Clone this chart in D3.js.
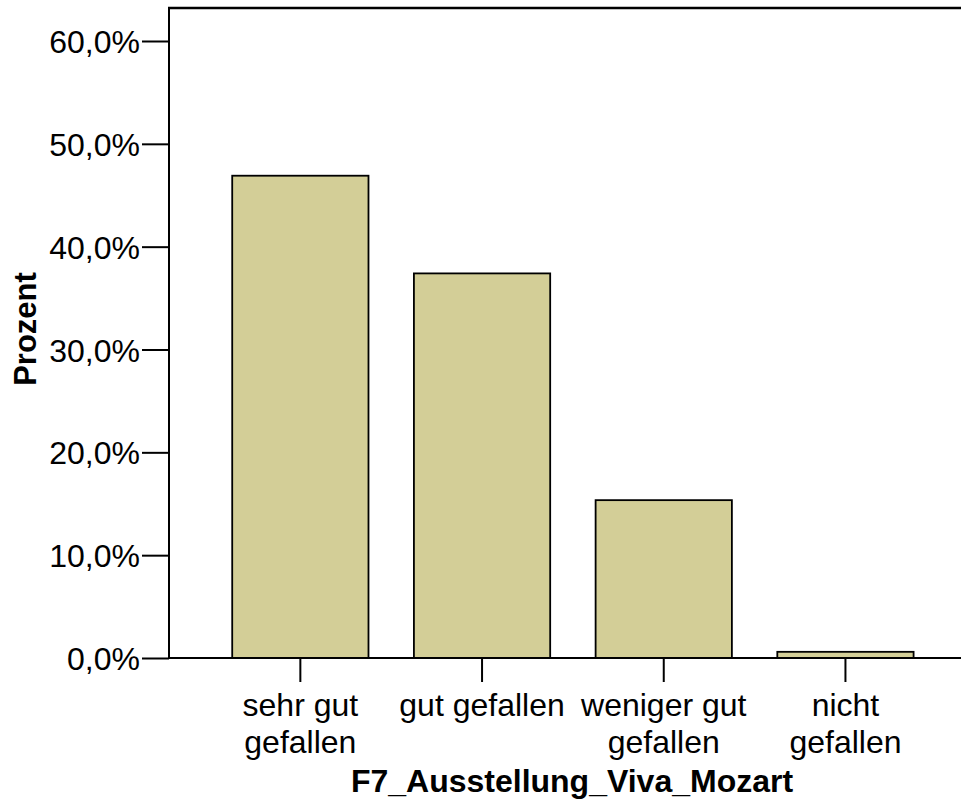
<!DOCTYPE html>
<html>
<head>
<meta charset="utf-8">
<script src="https://cdn.jsdelivr.net/npm/d3@7"></script>
<style>
  body { margin: 0; background: #fff; }
  text { font-family: "Liberation Sans", Arial, sans-serif; }
</style>
</head>
<body>
<svg id="chart" width="961" height="804"></svg>
<script>
// categories + values (percent)
const categories = ["sehr gut gefallen", "gut gefallen", "weniger gut gefallen", "nicht gefallen"];
const labelLines = [["sehr gut", "gefallen"], ["gut gefallen"], ["weniger gut", "gefallen"], ["nicht", "gefallen"]];
const percents = [46.9, 37.4, 15.35, 0.6];
const yTicks = [0, 10, 20, 30, 40, 50, 60];

const svg = d3.select("#chart");
const plotLeft = 169, plotRight = 961, plotTop = 8, plotBottom = 658;
const fontSize = 32;

const x = d3.scaleBand()
  .domain(categories)
  .range([209.5, 936.3])
  .paddingInner(0.25)
  .paddingOuter(0.125);

const y = d3.scaleLinear().domain([0, 60]).range([plotBottom, 41]);

// bars
svg.append("g")
  .selectAll("rect")
  .data(categories)
  .enter()
  .append("rect")
  .attr("x", d => x(d))
  .attr("width", x.bandwidth())
  .attr("y", (d, i) => y(percents[i]))
  .attr("height", (d, i) => plotBottom - y(percents[i]))
  .attr("fill", "#d3ce97")
  .attr("stroke", "#000")
  .attr("stroke-width", 1.8);

// y axis
const yAxis = svg.append("g")
  .attr("transform", `translate(${plotLeft},0)`)
  .call(d3.axisLeft(y)
    .tickValues(yTicks)
    .tickSize(27)
    .tickPadding(2)
    .tickFormat(d => d.toFixed(1).replace(".", ",") + "%"));
yAxis.select(".domain").remove();
yAxis.selectAll(".tick line").attr("stroke", "#000").attr("stroke-width", 2);
yAxis.selectAll(".tick text")
  .attr("font-size", fontSize)
  .attr("fill", "#000")
  .attr("dy", "0.36em");

// x axis ticks
const xAxis = svg.append("g")
  .attr("transform", `translate(0,${plotBottom})`)
  .call(d3.axisBottom(x).tickSize(24).tickFormat(""));
xAxis.select(".domain").remove();
xAxis.selectAll(".tick line").attr("stroke", "#000").attr("stroke-width", 2);

// category labels, wrapped as in the original
svg.append("g")
  .selectAll("text")
  .data(categories)
  .enter()
  .append("text")
  .attr("text-anchor", "middle")
  .attr("font-size", fontSize)
  .attr("fill", "#000")
  .each(function(d, i) {
    const t = d3.select(this);
    labelLines[i].forEach((ln, j) => {
      t.append("tspan")
        .attr("x", x(d) + x.bandwidth() / 2)
        .attr("y", 716 + j * 37)
        .text(ln);
    });
  });

// frame lines: left, top, bottom
svg.append("line").attr("x1", plotLeft).attr("x2", plotLeft).attr("y1", plotTop - 1).attr("y2", plotBottom + 1)
  .attr("stroke", "#000").attr("stroke-width", 2);
svg.append("line").attr("x1", plotLeft - 1).attr("x2", plotRight).attr("y1", plotTop).attr("y2", plotTop)
  .attr("stroke", "#000").attr("stroke-width", 2.5);
svg.append("line").attr("x1", plotLeft - 1).attr("x2", plotRight).attr("y1", plotBottom).attr("y2", plotBottom)
  .attr("stroke", "#000").attr("stroke-width", 2);

// axis titles
svg.append("text")
  .attr("x", 572)
  .attr("y", 792)
  .attr("text-anchor", "middle")
  .attr("font-size", fontSize)
  .attr("font-weight", "bold")
  .text("F7_Ausstellung_Viva_Mozart");

svg.append("text")
  .attr("transform", "translate(36,329) rotate(-90)")
  .attr("text-anchor", "middle")
  .attr("font-size", 31)
  .attr("font-weight", "bold")
  .text("Prozent");
</script>
</body>
</html>
